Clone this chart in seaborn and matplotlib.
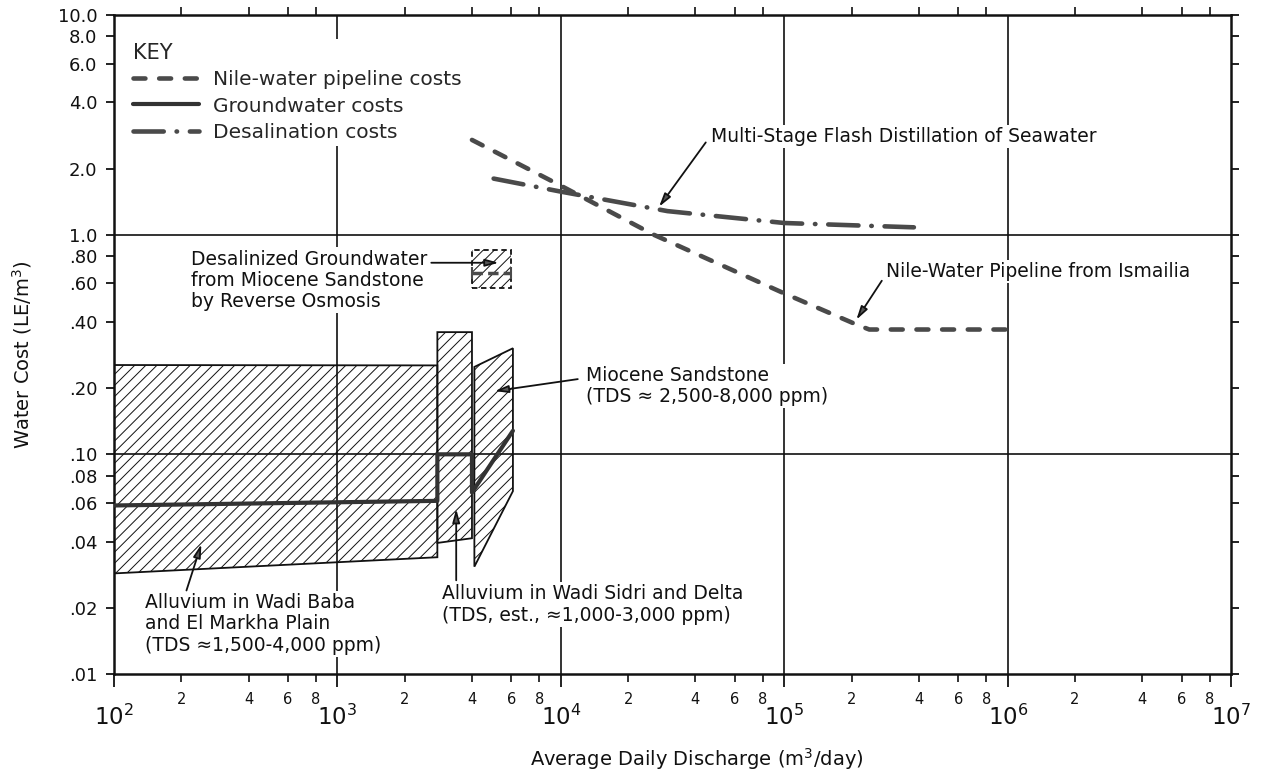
import matplotlib
matplotlib.use("Agg")
import matplotlib.pyplot as plt
import seaborn as sns
from matplotlib.ticker import FixedLocator, FixedFormatter

# ---------------------------------------------------------------- data
# Nile-water pipeline from Ismailia (LE/m3 vs m3/day)
nile_q = [4.0e3, 1.0e4, 2.6e4, 1.0e5, 2.1e5, 2.4e5, 1.0e6]
nile_cost = [2.7, 1.67, 1.0, 0.54, 0.39, 0.37, 0.37]

# Multi-stage flash distillation of seawater
desal_q = [5.0e3, 1.0e4, 3.0e4, 1.0e5, 3.8e5]
desal_cost = [1.8, 1.57, 1.28, 1.13, 1.08]

# Groundwater cost curve (steps at the aquifer boundaries)
gw_q = [1.0e2, 2.8e3, 2.8e3, 4.0e3, 4.0e3, 6.1e3]
gw_cost = [0.0585, 0.0614, 0.10, 0.10, 0.067, 0.128]

# Cost ranges of the aquifers (outline corners)
baba_q = [1.0e2, 2.8e3, 2.8e3, 1.0e2]
baba_cost = [0.255, 0.254, 0.034, 0.0287]

sidri_q = [2.8e3, 4.0e3, 4.0e3, 2.8e3]
sidri_cost = [0.36, 0.36, 0.0415, 0.0395]

miocene_q = [4.1e3, 6.1e3, 6.1e3, 4.1e3]
miocene_cost = [0.25, 0.304, 0.068, 0.0308]

# Reverse-osmosis desalinized groundwater (range and typical value)
ro_q = [4.0e3, 6.0e3]
ro_low, ro_high, ro_mid = 0.57, 0.85, 0.67

# Axis ticks
y_ticks = [0.01, 0.02, 0.04, 0.06, 0.08, 0.1, 0.2, 0.4, 0.6, 0.8,
           1.0, 2.0, 4.0, 6.0, 8.0, 10.0]
y_labels = [".01", ".02", ".04", ".06", ".08", ".10", ".20", ".40", ".60",
            ".80", "1.0", "2.0", "4.0", "6.0", "8.0", "10.0"]
x_decades = [1e2, 1e3, 1e4, 1e5, 1e6, 1e7]
x_decade_labels = [r"$\mathregular{10^{%d}}$" % e for e in range(2, 8)]
x_minor_mult = [2, 4, 6, 8]

# ---------------------------------------------------------------- style
sns.set_style("ticks")
plt.rcParams["font.family"] = ["DejaVu Sans"]
plt.rcParams["mathtext.fontset"] = "dejavusans"
plt.rcParams["hatch.linewidth"] = 0.7
plt.rcParams["hatch.color"] = "#2a2a2a"

INK = "#111111"
LINE = "#4a4a4a"

fig = plt.figure(figsize=(12.61, 7.78), dpi=100)
ax = fig.add_axes([0.0904, 0.1337, 0.886, 0.847])
ax.set_xscale("log")
ax.set_yscale("log")
ax.set_xlim(1e2, 1e7)
ax.set_ylim(0.01, 10)

# decade grid
for yv in (0.1, 1.0):
    ax.axhline(yv, color=INK, lw=1.2, zorder=1.5)
for xv in (1e3, 1e4, 1e5, 1e6):
    ax.axvline(xv, color=INK, lw=1.2, zorder=1.5)

# hatched cost ranges
for qs, cs in ((baba_q, baba_cost), (sidri_q, sidri_cost),
               (miocene_q, miocene_cost)):
    ax.fill(qs, cs, fill=False, hatch="///", edgecolor=INK, lw=1.3, zorder=2)

ax.fill([ro_q[0], ro_q[1], ro_q[1], ro_q[0]],
        [ro_low, ro_low, ro_high, ro_high],
        fill=False, hatch="///", edgecolor=INK, lw=1.3,
        linestyle=(0, (3, 2)), zorder=2)
ax.plot(ro_q, [ro_mid, ro_mid], color=LINE, lw=2.5, marker="|",
        markersize=9, mew=1.5, dashes=(3, 1.5), zorder=3)

# cost curves
sns.lineplot(x=nile_q, y=nile_cost, ax=ax, color=LINE, lw=3.3,
             estimator=None, sort=False, label="Nile-water pipeline costs")
nile_line = ax.get_lines()[-1]
nile_line.set_dashes([2.6, 3.0])
nile_line.set_dash_capstyle("round")

sns.lineplot(x=gw_q, y=gw_cost, ax=ax, color="#333333", lw=3.0,
             estimator=None, sort=False, label="Groundwater costs")
gw_line = ax.get_lines()[-1]

sns.lineplot(x=desal_q, y=desal_cost, ax=ax, color=LINE, lw=3.3,
             estimator=None, sort=False, label="Desalination costs")
desal_line = ax.get_lines()[-1]
desal_line.set_dashes([6.6, 2.8, 0.1, 2.8])
desal_line.set_dash_capstyle("round")
for ln in (nile_line, gw_line, desal_line):
    ln.set_zorder(4)

# legend
leg = ax.legend(handles=[nile_line, gw_line, desal_line], title="KEY",
                loc="upper left", bbox_to_anchor=(0.013, 0.963),
                frameon=True, fancybox=False, framealpha=1,
                facecolor="white", edgecolor="none",
                fontsize=14.5, title_fontsize=15, alignment="left",
                handlelength=3.3, handletextpad=0.7, labelspacing=0.35,
                borderpad=0.2, borderaxespad=0)
leg.set_zorder(6)

# annotations
box = dict(facecolor="white", edgecolor="none", pad=1.5)
arrow = dict(arrowstyle="-|>,head_length=0.8,head_width=0.22",
             facecolor="#555555", edgecolor=INK,
             lw=1.3, shrinkA=0, shrinkB=0)
txt = dict(fontsize=13.5, color=INK, ha="left", va="center",
           bbox=box, zorder=5, linespacing=1.15)

ax.text(221, 0.62, "Desalinized Groundwater\nfrom Miocene Sandstone\n"
        "by Reverse Osmosis", **txt)
ax.annotate("", xy=(5.27e3, 0.745), xytext=(2.63e3, 0.745),
            arrowprops=arrow, zorder=5)

ax.text(4.7e4, 2.8, "Multi-Stage Flash Distillation of Seawater", **txt)
ax.annotate("", xy=(2.75e4, 1.34), xytext=(4.45e4, 2.63),
            arrowprops=arrow, zorder=5)

ax.text(2.84e5, 0.68, "Nile-Water Pipeline from Ismailia", **txt)
ax.annotate("", xy=(2.1e5, 0.41), xytext=(2.73e5, 0.617),
            arrowprops=arrow, zorder=5)

ax.text(1.3e4, 0.205, "Miocene Sandstone\n(TDS \u2248 2,500-8,000 ppm)", **txt)
ax.annotate("", xy=(5.06e3, 0.194), xytext=(1.19e4, 0.22),
            arrowprops=arrow, zorder=5)

ax.text(2.95e3, 0.0207, "Alluvium in Wadi Sidri and Delta\n"
        "(TDS, est., \u22481,000-3,000 ppm)", **txt)
ax.annotate("", xy=(3.4e3, 0.0564), xytext=(3.4e3, 0.0267),
            arrowprops=arrow, zorder=5)

ax.text(138, 0.0169, "Alluvium in Wadi Baba\nand El Markha Plain\n"
        "(TDS \u22481,500-4,000 ppm)", **txt)
ax.annotate("", xy=(246, 0.039), xytext=(211, 0.024),
            arrowprops=arrow, zorder=5)

# axes, ticks and labels
for sp in ax.spines.values():
    sp.set_visible(True)
    sp.set_linewidth(1.8)
    sp.set_color(INK)

ax.yaxis.set_major_locator(FixedLocator(y_ticks))
ax.yaxis.set_major_formatter(FixedFormatter(y_labels))
ax.yaxis.set_minor_locator(FixedLocator([]))
ax.tick_params(axis="y", which="major", direction="out", length=6,
               width=1.3, colors=INK, labelsize=13, pad=6,
               left=True, right=True, labelright=False)

x_minor = [m * d for d in x_decades[:-1] for m in x_minor_mult]
ax.xaxis.set_major_locator(FixedLocator(x_decades))
ax.xaxis.set_major_formatter(FixedFormatter(x_decade_labels))
ax.xaxis.set_minor_locator(FixedLocator(x_minor))
ax.xaxis.set_minor_formatter(FixedFormatter([str(m) for _ in x_decades[:-1]
                                             for m in x_minor_mult]))
ax.tick_params(axis="x", which="major", direction="out", length=9,
               width=1.3, colors=INK, labelsize=16.5, pad=13,
               bottom=True, top=False)
ax.tick_params(axis="x", which="minor", direction="out", length=6,
               width=1.2, colors=INK, labelsize=10.5, pad=7,
               bottom=True, top=True, labeltop=False)

ax.set_xlabel("Average Daily Discharge (m$^3$/day)", fontsize=14, color=INK)
ax.set_ylabel("Water Cost (LE/m$^3$)", fontsize=14, color=INK)
ax.xaxis.set_label_coords(0.522, -0.11)
ax.yaxis.set_label_coords(-0.072, 0.484)

fig.savefig("out.png", dpi=100, facecolor="white")
